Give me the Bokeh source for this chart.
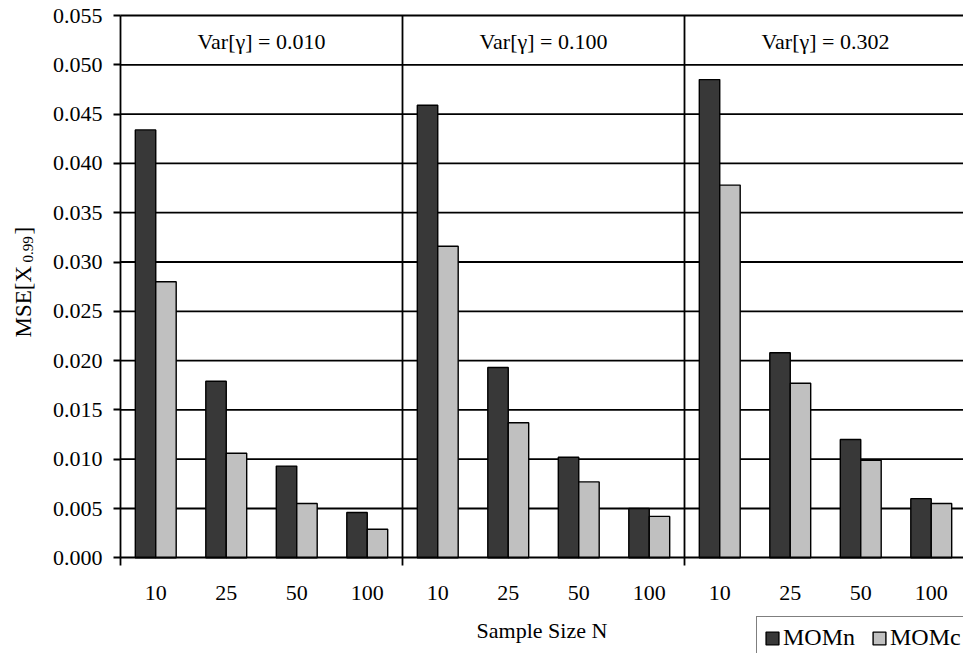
import math
from bokeh.plotting import figure
from bokeh.models import (ColumnDataSource, FixedTicker, PrintfTickFormatter, Range1d,
                          Label, Legend, LegendItem, CustomJSTickFormatter)
from bokeh.core.properties import value
from bokeh.embed import file_html
from bokeh.resources import INLINE

# Panels: variance of gamma; groups: sample size N
variances = ["0.010", "0.100", "0.302"]
sample_sizes = ["10", "25", "50", "100"]

# MSE of the 0.99 quantile estimate, one row per variance panel
momn = [
    [0.0434, 0.0179, 0.0093, 0.0046],
    [0.0459, 0.0193, 0.0102, 0.0050],
    [0.0485, 0.0208, 0.0120, 0.0060],
]
momc = [
    [0.0280, 0.0106, 0.0055, 0.0029],
    [0.0316, 0.0137, 0.0077, 0.0042],
    [0.0378, 0.0177, 0.0099, 0.0055],
]
y_ticks = [0.000, 0.005, 0.010, 0.015, 0.020, 0.025, 0.030,
           0.035, 0.040, 0.045, 0.050, 0.055]

FONT = "Liberation Serif"
DARK = "#383838"
LIGHT = "#c0c0c0"
LINE_W = 1.8
BAR_W = 0.29
n_groups = len(sample_sizes)
n_panels = len(variances)
Y_TOP = y_ticks[-1]

# canvas layout (pixels): the frame fills the whole canvas, the axes sit
# at fixed data locations so titles and legend can live around them
W, H = 963, 653
AX_LEFT, AX_BOTTOM, AX_TOP = 120, 557.3, 15
PX_PER_GROUP = 70.5
y_scale = (AX_BOTTOM - AX_TOP) / Y_TOP
x_range = Range1d(-AX_LEFT / PX_PER_GROUP, (W - AX_LEFT) / PX_PER_GROUP)
y_range = Range1d(-(H - AX_BOTTOM) / y_scale, Y_TOP + AX_TOP / y_scale)

# group centres on a numeric axis: one unit per sample size, four per panel
centers, dark_x, light_x, dark_top, light_top = [], [], [], [], []
for i, _ in enumerate(variances):
    for j, _ in enumerate(sample_sizes):
        c = i * n_groups + j + 0.5
        centers.append(c)
        dark_x.append(c - BAR_W / 2)
        light_x.append(c + BAR_W / 2)
        dark_top.append(momn[i][j])
        light_top.append(momc[i][j])

src_n = ColumnDataSource(dict(x=dark_x, top=dark_top))
src_c = ColumnDataSource(dict(x=light_x, top=light_top))

p = figure(width=W, height=H, output_backend="svg", toolbar_location=None,
           x_range=x_range, y_range=y_range,
           min_border_left=0, min_border_right=0, min_border_top=0,
           min_border_bottom=0)
p.outline_line_color = None
p.background_fill_color = "white"
p.border_fill_color = "white"
p.xgrid.visible = False
p.ygrid.visible = False

x_end = n_groups * n_panels
boundaries = [k * n_groups for k in range(n_panels + 1)]

# horizontal grid lines across the plotting area only
gy = [t for t in y_ticks if t > 0]
p.segment(x0=[0] * len(gy), x1=[x_end] * len(gy), y0=gy, y1=gy,
          line_color="black", line_width=LINE_W)
# vertical separators between the panels
sep = boundaries[1:]
p.segment(x0=sep, x1=sep, y0=[0] * len(sep), y1=[Y_TOP] * len(sep),
          line_color="black", line_width=LINE_W)

rn = p.vbar(x="x", top="top", width=BAR_W, bottom=0, source=src_n,
            fill_color=DARK, line_color="black", line_width=1.4)
rc = p.vbar(x="x", top="top", width=BAR_W, bottom=0, source=src_c,
            fill_color=LIGHT, line_color="black", line_width=1.4)

# y axis
ya = p.yaxis[0]
ya.fixed_location = 0
ya.bounds = (0, Y_TOP)
ya.ticker = FixedTicker(ticks=y_ticks)
ya.formatter = PrintfTickFormatter(format="%.3f")
ya.axis_line_color = "black"
ya.axis_line_width = LINE_W
ya.major_tick_line_color = "black"
ya.major_tick_line_width = LINE_W
ya.major_tick_out = 7
ya.major_tick_in = 0
ya.minor_tick_line_color = None
ya.major_label_standoff = 11
ya.major_label_text_font = FONT
ya.major_label_text_font_size = "22px"
ya.major_label_text_color = "black"

# x axis: sample-size labels at group centres, ticks at panel edges
xa = p.xaxis[0]
xa.fixed_location = 0
xa.bounds = (0, x_end)
xa.ticker = FixedTicker(ticks=centers, minor_ticks=boundaries)
xa.formatter = CustomJSTickFormatter(args=dict(labels=sample_sizes),
                                     code="return labels[Math.floor(tick) % labels.length];")
xa.axis_line_color = "black"
xa.axis_line_width = LINE_W
xa.major_tick_line_color = None
xa.major_tick_out = 0
xa.major_tick_in = 0
xa.minor_tick_line_color = "black"
xa.minor_tick_line_width = LINE_W
xa.minor_tick_out = 8
xa.minor_tick_in = 0
xa.major_label_standoff = 20
xa.major_label_text_font = FONT
xa.major_label_text_font_size = "22px"
xa.major_label_text_color = "black"
xa.axis_label = "Sample Size N"
xa.axis_label_text_font = FONT
xa.axis_label_text_font_size = "22px"
xa.axis_label_text_font_style = "normal"
xa.axis_label_text_color = "black"
xa.axis_label_standoff = 15

# panel headers
hdr = ColumnDataSource(dict(
    x=[i * n_groups + n_groups / 2 for i in range(n_panels)],
    y=[0.0524] * n_panels,
    t=[f"Var[\u03b3] = {v}" for v in variances],
))
p.text(x="x", y="y", text="t", source=hdr, text_font=value(FONT),
       text_font_size="22px", text_align="center", text_baseline="middle",
       text_color="black")

# rotated y-axis title with a subscript
common = dict(x_units="screen", y_units="screen", angle=math.pi / 2,
              text_font=FONT, text_color="black", text_align="left",
              text_baseline="alphabetic")
p.add_layout(Label(x=23, y=316, text="MSE[X", text_font_size="23px", **common))
p.add_layout(Label(x=27, y=391, text="0.99", text_font_size="15px", **common))
p.add_layout(Label(x=23, y=419, text="]", text_font_size="23px", **common))

legend = Legend(items=[LegendItem(label="MOMn", renderers=[rn]),
                       LegendItem(label="MOMc", renderers=[rc])],
                orientation="horizontal", location=(756, -6))
legend.border_line_color = "black"
legend.border_line_width = 1.5
legend.background_fill_color = "white"
legend.background_fill_alpha = 1
legend.glyph_width = 16
legend.glyph_height = 16
legend.label_text_font = FONT
legend.label_text_font_size = "24px"
legend.label_text_color = "black"
legend.label_standoff = 3
legend.spacing = 16
legend.padding = 7
legend.margin = 0
p.add_layout(legend, "center")

open("out.html", "w").write(file_html(p, INLINE))
